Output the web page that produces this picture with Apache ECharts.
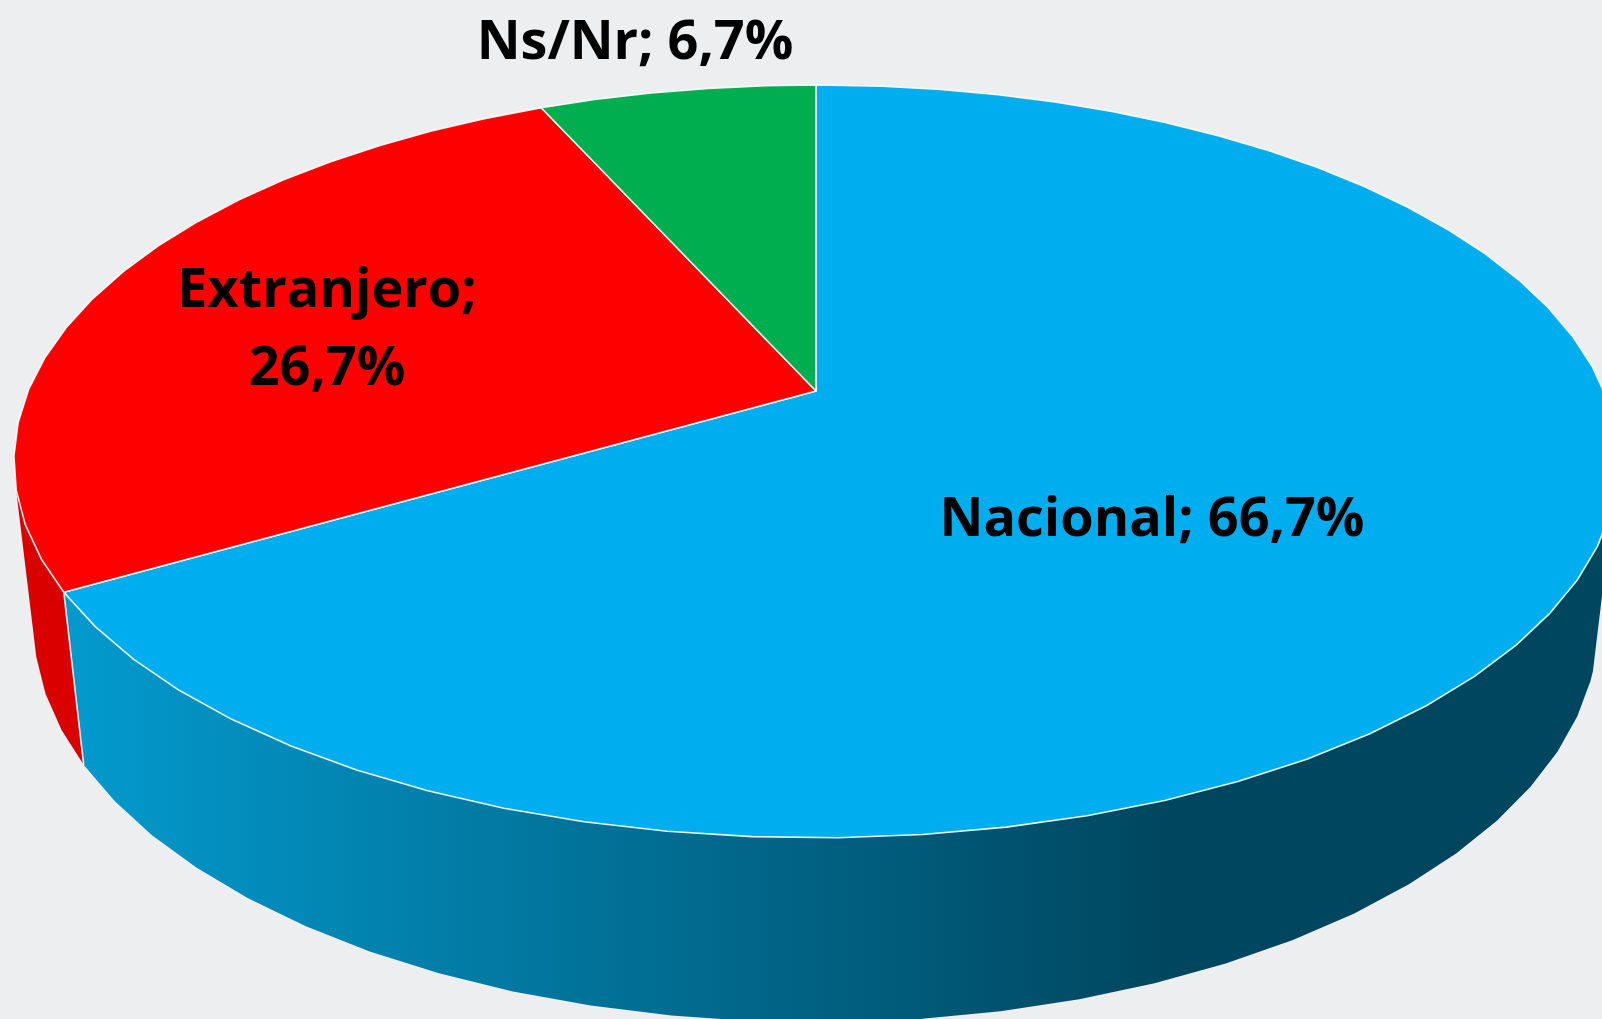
<!DOCTYPE html>
<html>
<head>
<meta charset="utf-8">
<style>html,body{margin:0;padding:0;background:#EDEEF0;overflow:hidden}#c{width:1602px;height:1019px}</style>
<script src="https://cdn.jsdelivr.net/npm/echarts@6/dist/echarts.min.js"></script>
</head>
<body>
<div id="c"></div>
<script>
// ---- data ----
const categories = ['Nacional', 'Extranjero', 'Ns/Nr'];
const values = [66.7, 26.7, 6.7];
const separators = ['; ', ';\n', '; '];

// ---- styling / layout ----
const topColors = ['#00AEEF', '#FF0000', '#00AD4F'];
const labelCentres = [[1152, 521], [327, 331], [635, 44]];
const view = { cx: 816, cy: 391, A: 788, B: 363.3, k: 0.187, drop: 165.6, q: 0.0246 };
const RAD = Math.PI / 180;
const FACET_DEG = 5;
// visible extent of the outer wall (degrees clockwise from 12 o'clock)
const WALL_FROM = 107, WALL_TO = 255;
// drift of the rim polygon's vertices from an even step: [degrees, drift]
const facetDrift = [[0, 0.7], [50, 1.1], [90, 1.1], [100, -1.6], [140, -1.8], [155, -1.47], [180, -1.3], [240, -0.3], [300, 0.7], [360, 0.7]];

function project(theta, lower) {
  const x = Math.sin(theta), y = Math.cos(theta);
  const w = 1 + view.k * y + (lower ? view.q : 0);
  return [
    view.cx + view.A * x / w,
    view.cy + (-view.B * y + (lower ? view.drop : 0)) / w
  ];
}
function facetDeg(n) {
  const d = n * FACET_DEG;
  for (let i = 1; i < facetDrift.length; i++) {
    const [d0, p0] = facetDrift[i - 1], [d1, p1] = facetDrift[i];
    if (d <= d1) return d + p0 + (p1 - p0) * (d - d0) / (d1 - d0);
  }
  return d;
}
function rim(a0, a1, lower) {
  const pts = [project(a0, lower)];
  for (let n = 1; n < 72; n++) {
    const t = facetDeg(n) * RAD;
    if (t > a0 + 1e-4 && t < a1 - 1e-4) pts.push(project(t, lower));
  }
  pts.push(project(a1, lower));
  return pts;
}
const total = values.reduce((a, b) => a + b, 0);
const spans = [];
values.reduce((acc, v) => {
  const end = acc + v / total * Math.PI * 2;
  spans.push([acc, end]);
  return end;
}, 0);

const wallFills = [
  new echarts.graphic.LinearGradient(83, 0, 1170, 0, [
    { offset: 0, color: '#0399CC' },
    { offset: 1, color: '#00465F' }
  ], true),
  '#DA0000',
  '#008A3F'
];

function renderWall(params) {
  const [s0, s1] = spans[params.dataIndex];
  const a0 = Math.max(s0, WALL_FROM * RAD), a1 = Math.min(s1, WALL_TO * RAD);
  if (a1 <= a0) return null;
  const pts = rim(a0, a1, false).concat(rim(a0, a1, true).reverse());
  return { type: 'polygon', shape: { points: pts }, style: { fill: wallFills[params.dataIndex] } };
}
function renderTop(params) {
  const i = params.dataIndex;
  const [a0, a1] = spans[i];
  const pts = [[view.cx, view.cy]].concat(rim(a0, a1, false));
  const children = [{
    type: 'polygon',
    shape: { points: pts },
    style: { fill: topColors[i], stroke: 'rgba(255,255,255,0.9)', lineWidth: 1.6, lineJoin: 'round' }
  }];
  if (i === 0) {
    const p = project(a1, false), q = project(a1, true);
    children.push({
      type: 'line',
      shape: { x1: p[0], y1: p[1], x2: q[0], y2: q[1] },
      style: { stroke: 'rgba(255,255,255,0.9)', lineWidth: 1.6 }
    });
  }
  return { type: 'group', children };
}
function renderLabel(params) {
  const i = params.dataIndex;
  const text = categories[i] + separators[i] + String(values[i]).replace('.', ',') + '%';
  return {
    type: 'text',
    style: {
      text,
      x: labelCentres[i][0], y: labelCentres[i][1],
      align: 'center', verticalAlign: 'middle',
      fontFamily: 'Open Sans', fontWeight: 700, fontSize: 54, lineHeight: 78,
      fill: '#000'
    }
  };
}
const seriesData = categories.map((name, i) => ({ name, value: values[i] }));
const chart = echarts.init(document.getElementById('c'), null, { renderer: 'canvas', width: 1602, height: 1019 });
chart.setOption({
  animation: false,
  backgroundColor: '#EDEEF0',
  series: [
    { type: 'custom', coordinateSystem: 'none', renderItem: renderWall, data: seriesData, z: 1, silent: true },
    { type: 'custom', coordinateSystem: 'none', renderItem: renderTop, data: seriesData, z: 2, silent: true },
    { type: 'custom', coordinateSystem: 'none', renderItem: renderLabel, data: seriesData, z: 3, silent: true }
  ]
});
</script>
</body>
</html>
